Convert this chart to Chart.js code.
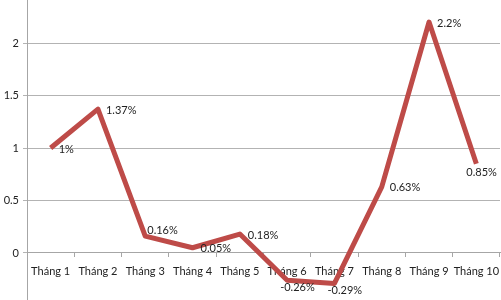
<!DOCTYPE html>
<html><head><meta charset="utf-8">
<script src="https://cdn.jsdelivr.net/npm/chart.js@4/dist/chart.umd.min.js"></script>
<style>html,body{margin:0;padding:0;background:#fff}#wrap{width:501px;height:300px}</style>
</head><body><div id="wrap"><canvas id="c" width="501" height="300"></canvas></div>
<script>
const categories = ["Tháng 1","Tháng 2","Tháng 3","Tháng 4","Tháng 5","Tháng 6","Tháng 7","Tháng 8","Tháng 9","Tháng 10"];
const values = [1, 1.37, 0.16, 0.05, 0.18, -0.26, -0.29, 0.63, 2.2, 0.85];
const pointLabels = ["1%","1.37%","0.16%","0.05%","0.18%","-0.26%","-0.29%","0.63%","2.2%","0.85%"];
const yTicks = [0, 0.5, 1, 1.5, 2];

const FONT = "Lato, 'Open Sans', sans-serif";

const labelPlugin = {
  id: 'pointLabels',
  afterDatasetsDraw(chart) {
    const ctx = chart.ctx;
    const meta = chart.getDatasetMeta(0);
    ctx.save();
    ctx.font = "11px " + FONT;
    ctx.fillStyle = "#222";
    ctx.textBaseline = "middle";
    ctx.textAlign = "left";
    meta.data.forEach((pt, i) => {
      const txt = pointLabels[i];
      const w = ctx.measureText(txt).width;
      let x = pt.x + 8, y = pt.y + 1;
      const next = values[i + 1];
      if (next !== undefined && next < values[i] && values[i] - next < 0.3) { x = pt.x + 2; y = pt.y - 6; }
      if (values[i] < 0) { x = pt.x - 7; y = pt.y + 7; }
      if (x + w > chart.width - 3) { x = pt.x - 10; y = pt.y + 9; }
      ctx.fillText(txt, x, y);
    });
    ctx.restore();
  }
};

new Chart(document.getElementById('c'), {
  type: 'line',
  data: {
    labels: categories,
    datasets: [{
      data: values,
      borderColor: '#be4b48',
      borderWidth: 5,
      pointRadius: 0,
      tension: 0,
      borderJoinStyle: 'round',
      borderCapStyle: 'butt',
      fill: false
    }]
  },
  options: {
    responsive: false,
    animation: false,
    layout: { padding: { left: 0, right: 1, top: 0, bottom: 0 } },
    plugins: { legend: { display: false }, tooltip: { enabled: false } },
    scales: {
      x: {
        position: { y: 0 },
        offset: true,
        afterFit(scale) { scale.paddingLeft = 0; scale.paddingRight = 0; scale.paddingTop = 0; scale.paddingBottom = 0; },
        grid: { drawOnChartArea: false, drawTicks: true, tickLength: 4, offset: true, color: '#a6a6a6' },
        border: { display: true, color: '#a6a6a6' },
        ticks: { font: { family: FONT, size: 11 }, color: '#222', padding: 8, maxRotation: 0, autoSkip: false }
      },
      y: {
        min: -0.448,
        max: 2.41,
        afterBuildTicks(scale) { scale.ticks = yTicks.map(v => ({ value: v })); },
        afterFit(scale) { scale.width = 27; scale.paddingTop = 0; scale.paddingBottom = 0; },
        grid: { color: '#b3b3b3', drawTicks: true, tickLength: 4 },
        border: { display: true, color: '#a6a6a6' },
        ticks: { font: { family: FONT, size: 11 }, color: '#222', padding: 4,
          callback: (v) => String(v) }
      }
    }
  },
  plugins: [labelPlugin]
});
</script>
</body></html>
